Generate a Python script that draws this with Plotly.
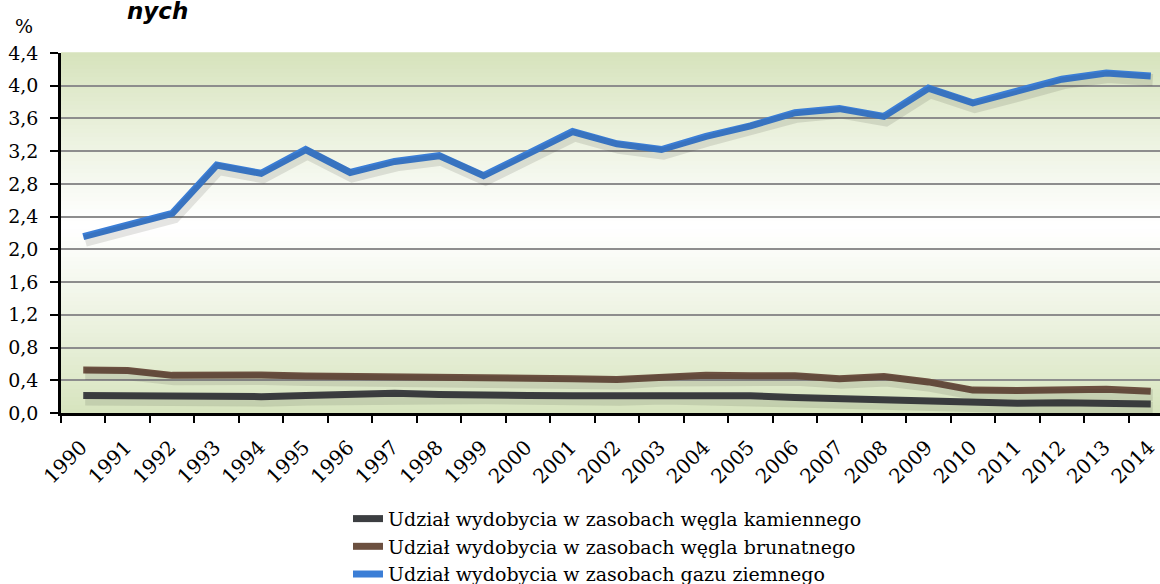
import plotly.graph_objects as go

years = [str(y) for y in range(1990, 2015)]

hard_coal = [0.215, 0.21, 0.195, 0.185, 0.20, 0.215, 0.23, 0.24, 0.225, 0.23,
             0.215, 0.21, 0.21, 0.225, 0.225, 0.21, 0.19, 0.175, 0.155, 0.135,
             0.125, 0.12, 0.125, 0.12, 0.11]
lignite = [0.525, 0.52, 0.46, 0.47, 0.465, 0.453, 0.45, 0.45, 0.445, 0.43,
           0.42, 0.42, 0.41, 0.445, 0.46, 0.455, 0.455, 0.42, 0.445, 0.38,
           0.28, 0.275, 0.28, 0.29, 0.265]
natural_gas = [2.155, 2.30, 2.44, 3.03, 2.93, 3.22, 2.94, 3.075, 3.145, 2.90,
               3.17, 3.44, 3.29, 3.22, 3.38, 3.51, 3.67, 3.72, 3.625, 3.97,
               3.79, 3.93, 4.08, 4.155, 4.12]

series_names = ["Udział wydobycia w zasobach węgla kamiennego",
                "Udział wydobycia w zasobach węgla brunatnego",
                "Udział wydobycia w zasobach gazu ziemnego"]
series_values = [hard_coal, lignite, natural_gas]
series_colors = ["#3c3e41", "#6c5040", "#3b7ed6"]

y_ticks = [0.0, 0.4, 0.8, 1.2, 1.6, 2.0, 2.4, 2.8, 3.2, 3.6, 4.0, 4.4]

W, H = 1160, 584
L, T, B = 61, 53, 171
plot_w = W - L
plot_h = H - T - B
cat_w = 44.48
x_hi = -0.5 + plot_w / cat_w
y_px = 4.4 / plot_h

fig = go.Figure()

# soft drop shadows (same data, drawn on slightly offset overlay axes)
for vals in series_values:
    fig.add_trace(go.Scatter(x=years, y=vals, mode="lines", xaxis="x2", yaxis="y2",
                             line=dict(color="rgba(40,45,35,0.12)", width=12),
                             hoverinfo="skip", showlegend=False))

for name, vals, col in zip(series_names, series_values, series_colors):
    fig.add_trace(go.Scatter(x=years, y=vals, mode="lines", name=name,
                             line=dict(color=col, width=7)))

# gradient plot background
shapes = []
N = 90
top = (214, 227, 188)
bot = (215, 228, 190)
for i in range(N):
    f0, f1 = i / N, (i + 1) / N
    fm = (f0 + f1) / 2
    c = 0.52
    if fm >= c:
        t = (fm - c) / (1 - c)
        g = top
    else:
        t = (c - fm) / c
        g = bot
    t = min(1.0, t ** 1.1)
    rgb = tuple(int(round(255 + (gv - 255) * t)) for gv in g)
    shapes.append(dict(type="rect", xref="x domain", yref="y domain",
                       x0=0, x1=1, y0=f0, y1=f1 + 0.002, layer="below",
                       line=dict(width=0), fillcolor="rgb(%d,%d,%d)" % rgb))

fig.update_layout(
    width=W, height=H,
    margin=dict(l=L, r=0, t=T, b=B, pad=0, autoexpand=False),
    paper_bgcolor="white", plot_bgcolor="white",
    separators=", ",
    font=dict(family="DejaVu Serif", size=18, color="black"),
    shapes=shapes,
    xaxis=dict(type="category", categoryorder="array", categoryarray=years,
               range=[-0.5, x_hi], tickson="boundaries", ticks="outside",
               ticklen=7, tickwidth=2, tickcolor="black", tickangle=-45,
               ticklabelshift=-2, ticklabelstandoff=12,
               showline=True, linecolor="black", linewidth=2.5,
               showgrid=False, zeroline=False, automargin=False,
               tickfont=dict(family="DejaVu Serif", size=20)),
    yaxis=dict(range=[0, 4.4], tickmode="array", tickvals=y_ticks,
               tickformat=".1f", ticks="outside", ticklen=8, tickwidth=2,
               ticklabelstandoff=8,
               tickcolor="black", showline=True, linecolor="black", linewidth=2.5,
               showgrid=True, gridcolor="#8d8d8d", gridwidth=2, zeroline=False,
               automargin=False,
               tickfont=dict(family="DejaVu Serif", size=19)),
    xaxis2=dict(type="category", categoryorder="array", categoryarray=years,
                overlaying="x", range=[-0.5 - 2 / cat_w, x_hi - 2 / cat_w],
                visible=False),
    yaxis2=dict(overlaying="y", range=[4 * y_px, 4.4 + 4 * y_px], visible=False),
    legend=dict(orientation="v", x=(348 - L) / plot_w, xanchor="left",
                y=-0.241, yanchor="top", bgcolor="rgba(0,0,0,0)",
                font=dict(family="DejaVu Serif", size=19, color="black"),
                itemwidth=30, traceorder="normal"),
    showlegend=True,
)

fig.add_annotation(text="%", xref="paper", yref="paper",
                   x=(24 - L) / plot_w, y=1 + (T - 26) / plot_h,
                   xanchor="center", yanchor="middle", showarrow=False,
                   font=dict(family="DejaVu Serif", size=19, color="black"))
fig.add_annotation(text="<b><i>nych</i></b>", xref="paper", yref="paper",
                   x=(125 - L) / plot_w, y=1 + (T - 11) / plot_h,
                   xanchor="left", yanchor="middle", showarrow=False,
                   font=dict(family="DejaVu Sans", size=23, color="black"))

fig.write_html("out.html", config={"displayModeBar": False},
               post_script="document.body.style.margin='0';"
                           "document.body.style.overflow='hidden';")
